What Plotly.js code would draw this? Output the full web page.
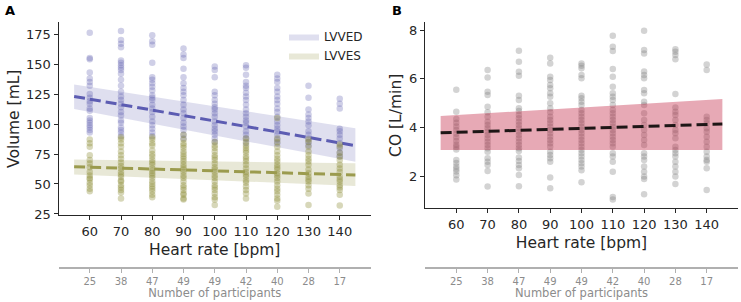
<!DOCTYPE html>
<html><head><meta charset="utf-8">
<script src="https://cdn.plot.ly/plotly-3.0.1.min.js"></script>
<style>html,body{margin:0;padding:0;background:#fff}#chart{width:741px;height:302px}</style>
</head><body><div id="chart"></div>
<script>
// ---- data ----
const hr = [60, 70, 80, 90, 100, 110, 120, 130, 140];
const participants = ['25', '38', '47', '49', '49', '42', '40', '28', '17'];

// LVVED (mL) per heart-rate step
const edv60 = [176, 155, 154, 143, 138, 135, 132, 125, 122, 119, 117, 113, 111, 105, 103, 101, 99, 97, 95, 93];
const edv70 = [177.5, 170, 167, 164, 153, 151, 149, 147, 145, 142, 137, 132, 127, 123, 120, 117, 114, 110, 107, 103, 101, 97, 95, 93, 90];
const edv80 = [174, 169, 166, 151, 139, 137, 134, 131, 128, 124, 122, 120, 116, 113, 110, 106, 102, 99, 96, 93, 90];
const edv90 = [163, 158, 155, 146, 139, 134, 130, 127, 124, 120, 116, 112, 109, 105, 101, 98, 95, 91, 88];
const edv100 = [148, 145, 139, 127, 124, 120, 117, 114, 112, 109, 106, 102, 99, 96, 94, 91, 88, 85];
const edv110 = [149, 147, 141, 135, 132, 130, 126, 123, 120, 116, 112, 109, 106, 103, 101, 98, 94, 91, 88, 84];
const edv120 = [141, 138, 135, 130, 127, 123, 120, 117, 113, 110, 106, 102, 99, 96, 94, 91, 87, 84];
const edv130 = [132, 122, 112, 108, 105, 102, 99, 94, 91, 88, 85, 82];
const edv140 = [121, 117, 113, 96, 94, 91, 88, 84, 80, 76, 73];

// LVVES (mL)
const esv60 = [87, 84, 81, 74, 70, 67, 64, 60, 57, 55, 54, 51, 49, 46, 44];
const esv70 = [89, 87, 84, 81, 77, 74, 71, 68, 65, 63, 60, 58, 56, 53, 52, 49, 47, 45, 43, 38];
const esv80 = [89, 87, 84, 82, 78, 75, 73, 70, 68, 66, 63, 61, 59, 57, 55, 52, 50, 48, 46, 44, 41, 39];
const esv90 = [91, 87, 84, 82, 80, 77, 75, 73, 71, 69, 66, 64, 62, 60, 57, 55, 52, 49, 47, 45, 42, 41, 38, 37];
const esv100 = [85, 82, 80, 77, 74, 72, 70, 67, 64, 62, 60, 57, 55, 52, 49, 47, 45, 42, 39, 37, 32.5];
const esv110 = [88, 85, 82, 80, 78, 76, 73, 71, 69, 66, 63, 60, 58, 56, 53, 51, 48, 45, 42, 38];
const esv120 = [105, 88, 85, 81, 77, 74, 71, 69, 66, 64, 62, 59, 57, 55, 52, 49, 46, 44, 41, 38, 36, 31];
const esv130 = [87, 85, 81, 77, 74, 71, 69, 66, 62, 59, 56, 54, 52, 49, 46, 42, 32.5];
const esv140 = [83, 81, 76, 73, 70, 66, 63, 60, 56, 54, 52, 49, 47, 45, 41, 32];

// CO (L/min)
const co60 = [5.55, 4.65, 4.35, 4.2, 4.05, 3.9, 3.75, 3.6, 3.45, 3.3, 3.2, 3.1, 2.67, 2.55, 2.4, 2.3, 2.2, 2.05, 1.87];
const co70 = [6.36, 6.06, 5.47, 5.34, 4.86, 4.63, 4.45, 4.24, 4.11, 3.97, 3.83, 3.70, 3.56, 3.42, 3.29, 3.15, 3.01, 2.74, 2.60, 2.47, 2.22, 1.58];
const co80 = [7.15, 6.70, 6.29, 6.13, 5.31, 5.13, 4.79, 4.68, 4.52, 4.38, 4.24, 4.11, 3.97, 3.83, 3.70, 3.56, 3.42, 3.29, 3.15, 3.04, 2.77, 2.63, 2.47, 2.33, 2.06, 1.59];
const co90 = [6.87, 6.63, 6.09, 5.95, 5.75, 5.61, 5.41, 5.27, 5.0, 4.79, 4.63, 4.45, 4.31, 4.18, 4.04, 3.90, 3.77, 3.63, 3.49, 3.36, 3.22, 3.01, 2.88, 2.74, 2.60, 1.95, 1.51];
const co100 = [6.63, 6.54, 6.43, 6.16, 6.02, 5.31, 5.20, 5.06, 4.93, 4.72, 4.59, 4.45, 4.31, 4.18, 4.04, 3.90, 3.77, 3.63, 3.49, 3.36, 3.22, 3.08, 2.95, 2.81, 2.67, 2.54, 2.40, 2.25, 1.76];
const co110 = [7.77, 7.32, 7.14, 6.40, 6.09, 5.68, 5.41, 5.27, 5.13, 4.93, 4.72, 4.59, 4.45, 4.31, 4.18, 4.04, 3.90, 3.77, 3.63, 3.49, 3.36, 3.22, 2.95, 2.81, 2.60, 2.19, 1.15, 1.05];
const co120 = [7.97, 7.18, 7.04, 6.3, 6.16, 6.02, 5.54, 5.41, 5.06, 4.93, 4.59, 4.31, 4.11, 3.90, 3.70, 3.49, 3.29, 2.95, 2.81, 2.67, 2.40, 2.19, 1.99, 1.89, 1.27];
const co130 = [7.21, 7.11, 6.98, 6.80, 5.38, 4.82, 4.65, 4.52, 4.31, 4.11, 3.90, 3.77, 3.56, 3.22, 3.08, 2.95, 2.81, 2.60, 2.40, 2.19, 1.99, 1.69];
const co140 = [6.59, 6.36, 4.45, 4.31, 4.18, 3.97, 3.83, 3.63, 3.42, 3.22, 3.01, 2.81, 2.67, 2.60, 2.33, 1.44];

// regression lines and confidence bands (read at the ends of the fitted range)
const fitHR = [55, 145];
const edvFit = [123, 82];
const edvLo = [112.5, 68.5];
const edvHi = [133, 96.5];
const esvFit = [64.4, 57.5];
const esvLo = [58, 48.3];
const esvHi = [70.5, 67.2];
const coFit = [3.79, 4.15];
const coLo = [3.08, 3.08];
const coHi = [4.48, 5.17];

// ---- build traces ----
function flatten(cols) {
  const x = [], y = [];
  cols.forEach((col, i) => col.forEach(v => { x.push(hr[i]); y.push(v); }));
  return {x, y};
}
const edv = flatten([edv60, edv70, edv80, edv90, edv100, edv110, edv120, edv130, edv140]);
const esv = flatten([esv60, esv70, esv80, esv90, esv100, esv110, esv120, esv130, esv140]);
const co = flatten([co60, co70, co80, co90, co100, co110, co120, co130, co140]);

const bandX = fitHR.concat(fitHR.slice().reverse());
function band(lo, hi, color, name, show, xa, ya) {
  return {type: 'scatter', mode: 'lines', x: bandX, y: lo.concat(hi.slice().reverse()),
    fill: 'toself', fillcolor: color, line: {width: 0, color: color}, name: name,
    showlegend: show, hoverinfo: 'skip', xaxis: xa, yaxis: ya};
}
function pts(d, color, xa, ya) {
  return {type: 'scatter', mode: 'markers', x: d.x, y: d.y, showlegend: false,
    marker: {size: 6.5, color: color, line: {width: 0}}, xaxis: xa, yaxis: ya};
}
function fit(y, color, xa, ya) {
  return {type: 'scatter', mode: 'lines', x: fitHR, y: y, showlegend: false,
    line: {color: color, width: 3, dash: '11px,5px'}, xaxis: xa, yaxis: ya};
}
const nulls = hr.map(() => null);

const traces = [
  pts(edv, 'rgba(95,95,175,0.3)', 'x', 'y'),
  band(edvLo, edvHi, 'rgba(95,95,175,0.2)', 'LVVED', true, 'x', 'y'),
  fit(edvFit, '#5c5cb2', 'x', 'y'),
  pts(esv, 'rgba(140,140,55,0.35)', 'x', 'y'),
  band(esvLo, esvHi, 'rgba(140,140,55,0.2)', 'LVVES', true, 'x', 'y'),
  fit(esvFit, '#9b9b4e', 'x', 'y'),
  pts(co, 'rgba(128,128,128,0.35)', 'x2', 'y2'),
  band(coLo, coHi, 'rgba(195,40,70,0.4)', 'CO', false, 'x2', 'y2'),
  fit(coFit, '#1e1616', 'x2', 'y2'),
  {type: 'scatter', mode: 'markers', x: hr, y: nulls, xaxis: 'x3', yaxis: 'y', showlegend: false, hoverinfo: 'skip'},
  {type: 'scatter', mode: 'markers', x: hr, y: nulls, xaxis: 'x4', yaxis: 'y2', showlegend: false, hoverinfo: 'skip'}
];

const dark = '#262626';
function mainX(domain, anchor) {
  return {domain: domain, anchor: anchor, range: [50, 150], tickvals: hr, ticks: 'outside', ticklen: 4,
    tickcolor: dark, showline: true, linecolor: dark, linewidth: 1, showgrid: false, zeroline: false,
    tickfont: {size: 13, color: dark},
    title: {text: 'Heart rate [bpm]', font: {size: 15.5, color: dark}, standoff: 6}};
}
function countX(over) {
  return {overlaying: over, anchor: 'free', position: 1 - 267 / 302, side: 'bottom', range: [50, 150],
    tickvals: hr, ticktext: participants, ticks: 'outside', ticklen: 4, tickcolor: '#b0b0b0',
    showline: true, linecolor: '#b0b0b0', linewidth: 1.5, showgrid: false, zeroline: false,
    tickfont: {size: 10, color: '#8c8c8c'},
    title: {text: 'Number of participants', font: {size: 11.5, color: '#8c8c8c'}, standoff: 2}};
}

const layout = {
  width: 741, height: 302,
  margin: {l: 0, r: 0, t: 0, b: 0},
  paper_bgcolor: '#fff', plot_bgcolor: '#fff',
  font: {family: 'DejaVu Sans', color: dark},
  xaxis: mainX([58.5 / 741, 371 / 741], 'y'),
  yaxis: {domain: [1 - 215.3 / 302, 1 - 22.3 / 302], anchor: 'x', range: [23.9, 184.8],
    tickvals: [25, 50, 75, 100, 125, 150, 175], ticks: 'outside', ticklen: 4, tickcolor: dark,
    showline: true, linecolor: dark, linewidth: 1, showgrid: false, zeroline: false,
    tickfont: {size: 13, color: dark},
    title: {text: 'Volume [mL]', font: {size: 15.5, color: dark}, standoff: 2}},
  xaxis2: mainX([425 / 741, 738 / 741], 'y2'),
  yaxis2: {domain: [1 - 208.3 / 302, 1 - 22.3 / 302], anchor: 'x2', range: [0.69, 8.32],
    tickvals: [2, 4, 6, 8], ticks: 'outside', ticklen: 4, tickcolor: dark,
    showline: true, linecolor: dark, linewidth: 1, showgrid: false, zeroline: false,
    tickfont: {size: 13, color: dark},
    title: {text: 'CO [L/min]', font: {size: 15.5, color: dark}, standoff: 3}},
  xaxis3: countX('x'),
  xaxis4: countX('x2'),
  showlegend: true,
  legend: {x: 284 / 741, y: 1 - 22 / 302, xanchor: 'left', yanchor: 'top', bgcolor: 'rgba(0,0,0,0)',
    font: {size: 12, color: dark}, tracegroupgap: 0, itemwidth: 30},
  annotations: [
    {text: '<b>A</b>', x: 3 / 741, y: 1 - 1 / 302, xref: 'paper', yref: 'paper', xanchor: 'left', yanchor: 'top',
      showarrow: false, font: {size: 13, color: '#000'}},
    {text: '<b>B</b>', x: 390 / 741, y: 1 - 1 / 302, xref: 'paper', yref: 'paper', xanchor: 'left', yanchor: 'top',
      showarrow: false, font: {size: 13, color: '#000'}}
  ]
};

Plotly.newPlot('chart', traces, layout, {staticPlot: true, displayModeBar: false});
</script></body></html>
